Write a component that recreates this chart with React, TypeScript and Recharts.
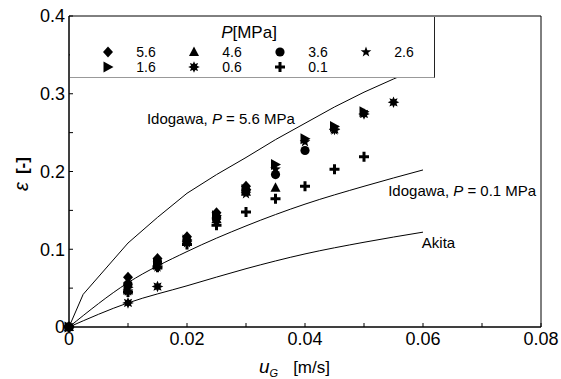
import React from 'react'
import { ComposedChart, Line, Scatter, XAxis, YAxis, ReferenceArea, ReferenceDot, Legend } from 'recharts'

const FONT = '"Liberation Sans", Arial, Helvetica, sans-serif'

// measured points: gas velocity u_G [m/s] and gas holdup per pressure [MPa]
const ugPoints = [0, 0.01, 0.015, 0.02, 0.025, 0.03, 0.035, 0.04, 0.045, 0.05, 0.055]
const eps56 = [0, 0.064, 0.088, 0.116, 0.147, 0.181, null, null, null, null, null]
const eps46 = [0, 0.047, 0.079, 0.11, 0.139, 0.174, 0.179, null, null, null, null]
const eps36 = [0, 0.055, 0.084, 0.111, 0.141, 0.176, 0.196, 0.227, null, null, null]
const eps26 = [0, 0.046, 0.077, 0.108, 0.137, 0.171, 0.203, 0.238, 0.253, null, null]
const eps16 = [0, 0.051, 0.081, 0.112, 0.143, 0.177, 0.209, 0.242, 0.258, 0.277, null]
const eps06 = [0, 0.031, 0.052, null, null, null, null, null, 0.254, 0.274, 0.289]
const eps01 = [0, 0.045, 0.077, 0.106, 0.131, 0.148, 0.165, 0.181, 0.203, 0.219, null]

// correlation curves
const idoHighU = [0, 0.0024, 0.01, 0.015, 0.02, 0.025, 0.03, 0.035, 0.04, 0.045, 0.05, 0.055, 0.06]
const idoHighEps = [0, 0.042, 0.108, 0.141, 0.172, 0.196, 0.218, 0.241, 0.262, 0.283, 0.302, 0.319, 0.335]
const curveU = [0, 0.01, 0.02, 0.03, 0.04, 0.05, 0.06]
const idoLowEps = [0, 0.057, 0.097, 0.13, 0.158, 0.181, 0.202]
const akitaEps = [0, 0.031, 0.053, 0.075, 0.094, 0.109, 0.122]

const xTicks = [0, 0.01, 0.02, 0.03, 0.04, 0.05, 0.06, 0.07, 0.08]
const yTicks = [0, 0.05, 0.1, 0.15, 0.2, 0.25, 0.3, 0.35, 0.4]

type Pt = { u: number; e: number }
const toPoints = (xs: number[], ys: (number | null)[]): Pt[] =>
  xs.flatMap((u, i) => (ys[i] == null ? [] : [{ u, e: ys[i] as number }]))

const starPoints = (cx: number, cy: number, n: number, ro: number, ri: number) => {
  const pts: string[] = []
  for (let k = 0; k < n * 2; k++) {
    const r = k % 2 === 0 ? ro : ri
    const a = -Math.PI / 2 + (k * Math.PI) / n
    pts.push(`${cx + r * Math.cos(a)},${cy + r * Math.sin(a)}`)
  }
  return pts.join(' ')
}

type Mark = (cx: number, cy: number) => React.ReactElement
const diamond: Mark = (cx, cy) => (
  <path d={`M${cx},${cy - 5.5}L${cx + 5},${cy}L${cx},${cy + 5.5}L${cx - 5},${cy}Z`} fill="#000" />
)
const triangle: Mark = (cx, cy) => (
  <path d={`M${cx},${cy - 5.5}L${cx + 5},${cy + 4}L${cx - 5},${cy + 4}Z`} fill="#000" />
)
const circle: Mark = (cx, cy) => <circle cx={cx} cy={cy} r={4.6} fill="#000" />
const star5: Mark = (cx, cy) => <polygon points={starPoints(cx, cy, 5, 5.6, 2.3)} fill="#000" />
const rightTri: Mark = (cx, cy) => (
  <path d={`M${cx - 4.5},${cy - 5.5}L${cx + 5.5},${cy}L${cx - 4.5},${cy + 5.5}Z`} fill="#000" />
)
const burst: Mark = (cx, cy) => <polygon points={starPoints(cx, cy, 8, 5.8, 3.2)} fill="#000" />
const plus: Mark = (cx, cy) => (
  <path d={`M${cx - 5},${cy - 1.5}h10v3h-10z M${cx - 1.5},${cy - 5}h3v10h-3z`} fill="#000" />
)

const series = [
  { label: '5.6', values: eps56, mark: diamond },
  { label: '4.6', values: eps46, mark: triangle },
  { label: '3.6', values: eps36, mark: circle },
  { label: '2.6', values: eps26, mark: star5 },
  { label: '1.6', values: eps16, mark: rightTri },
  { label: '0.6', values: eps06, mark: burst },
  { label: '0.1', values: eps01, mark: plus },
]

const PressureLegend = () => (
  <div
    style={{
      width: 365,
      height: 61,
      background: '#fff',
      borderRight: '1px solid #222',
      borderBottom: '1px solid #999',
      boxSizing: 'border-box',
    }}
  >
    <svg width={364} height={60} style={{ display: 'block' }}>
      <text x={179} y={21} textAnchor="middle" fontSize={17} fontFamily={FONT} fill="#000">
        <tspan fontStyle="italic">P</tspan>[MPa]
      </text>
      {series.map((s, i) => {
        const col = i < 4 ? i : i - 4
        const row = i < 4 ? 0 : 1
        const mx = 38 + col * 86
        const my = 35 + row * 15
        return (
          <g key={s.label}>
            {s.mark(mx, my)}
            <text x={mx + 38} y={my + 5} textAnchor="middle" fontSize={14} fontFamily={FONT} fill="#000">
              {s.label}
            </text>
          </g>
        )
      })}
    </svg>
  </div>
)

const Note = ({ viewBox, pre, italic, post }: any) => (
  <text x={viewBox.x} y={viewBox.y} dy={5} fontSize={15} fontFamily={FONT} fill="#000">
    {pre}
    <tspan fontStyle="italic">{italic}</tspan>
    {post}
  </text>
)

const XTitle = ({ viewBox }: any) => (
  <text x={viewBox.x + 190} y={viewBox.y + 46} fontFamily={FONT} fill="#000">
    <tspan fontStyle="italic" fontSize={19}>u</tspan>
    <tspan fontStyle="italic" fontSize={11} dy={4}>G</tspan>
    <tspan fontSize={17} dy={-4} dx={15}>[m/s]</tspan>
  </text>
)

const YTitle = () => (
  <text transform="translate(28,174) rotate(-90)" textAnchor="middle" fontFamily={FONT} fill="#000">
    <tspan fontStyle="italic" fontSize={20}>ε</tspan>
    <tspan fontSize={17} fontWeight="bold" dx={8}>[-]</tspan>
  </text>
)

const fmtX = (v: number) => (Math.round(v * 100) % 2 === 0 ? (v === 0 ? '0' : v.toFixed(2)) : '')
const fmtY = (v: number) => (Math.round(v * 100) % 10 === 0 ? (v === 0 ? '0' : v.toFixed(1)) : '')

export default function App() {
  const tickStyle = { fontSize: 18, fontFamily: FONT, fill: '#000' }
  return (
    <div style={{ position: 'absolute', left: 0, top: 0, width: 561, height: 379, background: '#fff' }}>
      <ComposedChart width={561} height={379} margin={{ top: 16, right: 20, bottom: 0, left: 0 }}>
        <XAxis
          dataKey="u"
          type="number"
          domain={[0, 0.08]}
          ticks={xTicks}
          interval={0}
          tickFormatter={fmtX}
          tick={tickStyle}
          tickSize={-4}
          tickMargin={9}
          height={52}
          stroke="#000"
          label={<XTitle />}
        />
        <YAxis
          dataKey="e"
          type="number"
          domain={[0, 0.4]}
          ticks={yTicks}
          interval={0}
          tickFormatter={fmtY}
          tick={tickStyle}
          tickSize={-4}
          tickMargin={8}
          width={69}
          stroke="#000"
          label={<YTitle />}
        />
        <ReferenceArea x1={0} x2={0.08} y1={0} y2={0.4} fill="none" stroke="#000" strokeWidth={1} />
        <Line
          data={toPoints(idoHighU, idoHighEps)}
          dataKey="e"
          type="linear"
          stroke="#000"
          strokeWidth={1}
          dot={false}
          isAnimationActive={false}
        />
        <Line
          data={toPoints(curveU, idoLowEps)}
          dataKey="e"
          type="monotone"
          stroke="#000"
          strokeWidth={1}
          dot={false}
          isAnimationActive={false}
        />
        <Line
          data={toPoints(curveU, akitaEps)}
          dataKey="e"
          type="monotone"
          stroke="#000"
          strokeWidth={1}
          dot={false}
          isAnimationActive={false}
        />
        {series.map((s) => (
          <Scatter
            key={s.label}
            name={s.label}
            data={toPoints(ugPoints, s.values)}
            isAnimationActive={false}
            shape={(p: any) => s.mark(p.cx, p.cy)}
          />
        ))}
        <ReferenceDot x={0.0132} y={0.2675} r={0} fill="none" stroke="none"
          label={<Note pre="Idogawa, " italic="P" post=" = 5.6 MPa" />} />
        <ReferenceDot x={0.0541} y={0.1753} r={0} fill="none" stroke="none"
          label={<Note pre="Idogawa, " italic="P" post=" = 0.1 MPa" />} />
        <ReferenceDot x={0.0598} y={0.108} r={0} fill="none" stroke="none"
          label={<Note pre="Akita" italic="" post="" />} />
        <Legend
          layout="horizontal"
          verticalAlign="middle"
          align="center"
          content={() => <PressureLegend />}
          wrapperStyle={{ position: 'absolute', left: 70, top: 17, width: 365, height: 61 }}
        />
      </ComposedChart>
    </div>
  )
}
